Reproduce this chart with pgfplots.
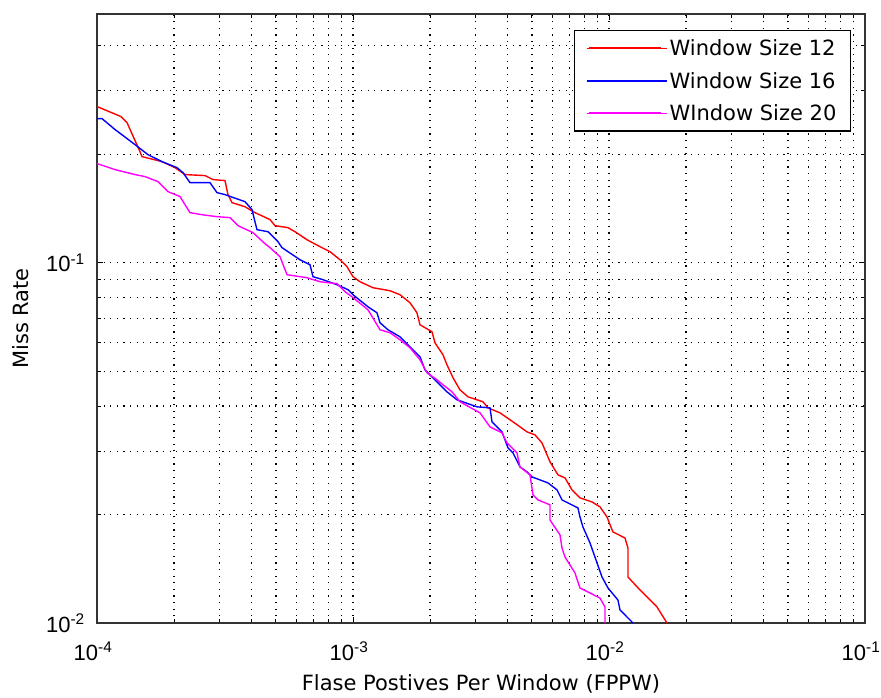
\documentclass[border=0pt]{standalone}
\usepackage{fontspec}
\setmainfont{DejaVu Sans}
\newfontfamily\tickfont{Liberation Sans}
\usepackage{pgfplots}
\pgfplotsset{compat=1.18}
\definecolor{cRed}{RGB}{255,0,0}
\definecolor{cBlue}{RGB}{0,0,255}
\definecolor{cMag}{RGB}{255,0,255}

\begin{document}
\begin{tikzpicture}
\useasboundingbox (-97pt,-74pt) rectangle (784pt,623pt);
\begin{axis}[
  scale only axis, width=768pt, height=609pt,
  xmode=log, ymode=log,
  xmin=1e-4, xmax=1e-1, ymin=1e-2, ymax=0.49,
  font=\fontsize{21}{25}\selectfont,
  xtick={1e-4,1e-3,1e-2,1e-1},
  xticklabels={10\textsuperscript{-4},10\textsuperscript{-3},10\textsuperscript{-2},10\textsuperscript{-1}},
  ytick={1e-2,1e-1},
  yticklabels={10\textsuperscript{-2},10\textsuperscript{-1}},
  minor xtick={2e-4,3e-4,4e-4,5e-4,6e-4,7e-4,8e-4,9e-4,2e-3,3e-3,4e-3,5e-3,6e-3,7e-3,8e-3,9e-3,2e-2,3e-2,4e-2,5e-2,6e-2,7e-2,8e-2,9e-2},
  minor ytick={0.02,0.03,0.04,0.05,0.06,0.07,0.08,0.09,0.2,0.3,0.4},
  tick label style={font=\tickfont\fontsize{22}{26}\selectfont, inner sep=0pt},
  xticklabel style={anchor=base, yshift=-37pt, xshift=-4pt},
  yticklabel style={anchor=base east, xshift=-12pt, yshift=-9pt},
  grid=both,
  major grid style={black, line width=1.2pt, dash pattern=on 1.2pt off 5.4pt},
  minor grid style={black, line width=1.2pt, dash pattern=on 1.2pt off 5.4pt},
  tick align=inside,
  major tick length=6pt, minor tick length=4pt,
  tick style={black, line width=0.9pt},
  axis line style={black!80, line width=1.4pt},
  xlabel={Flase Postives Per Window (FPPW)},
  ylabel={Miss Rate},
  xlabel style={at={(axis description cs:0.5,-0.110)}, anchor=base},
  ylabel style={at={(axis description cs:-0.0898,0.5)}, anchor=base},
  legend style={at={(rel axis cs:0.9818,0.9737)}, anchor=north east,
    draw=black, line width=1.2pt, fill=white,
    inner xsep=12pt, inner ysep=7pt, row sep=11pt,
    font=\fontsize{21}{25}\selectfont},
  legend cell align=left,
  legend image code/.code={%
    \path (0pt,0pt) -- (80pt,0pt);
    \draw[#1, line width=1.8pt] plot coordinates {(2pt,0pt) (38pt,0pt) (74pt,0pt)};},
]
\addplot[color=cRed, line width=1.4pt] coordinates {
(1.000e-4,0.2713) (1.241e-4,0.2544) (1.310e-4,0.2448) (1.472e-4,0.2034) (1.499e-4,0.1970)
(1.794e-4,0.1908) (2.017e-4,0.1836) (2.207e-4,0.1756) (2.642e-4,0.1745) (2.839e-4,0.1701)
(3.162e-4,0.1690) (3.249e-4,0.1545) (3.368e-4,0.1468) (3.786e-4,0.1430) (4.143e-4,0.1377)
(4.741e-4,0.1317) (4.959e-4,0.1267) (5.573e-4,0.1251) (5.934e-4,0.1219) (6.612e-4,0.1158)
(7.430e-4,0.1108) (8.133e-4,0.1073) (8.897e-4,0.1019) (9.476e-4,0.09747) (1.000e-3,0.09145)
(1.065e-3,0.08856) (1.197e-3,0.08522) (1.395e-3,0.08360) (1.526e-3,0.08149) (1.670e-3,0.07743)
(1.778e-3,0.07262) (1.827e-3,0.06727) (2.035e-3,0.06432) (2.091e-3,0.05995) (2.247e-3,0.05551)
(2.329e-3,0.05208) (2.459e-3,0.04793) (2.618e-3,0.04438) (2.813e-3,0.04244) (3.219e-3,0.04111)
(3.368e-3,0.03956) (3.752e-3,0.03831) (4.217e-3,0.03617) (4.783e-3,0.03393) (5.140e-3,0.03328)
(5.473e-3,0.03162) (5.884e-3,0.02800) (6.322e-3,0.02577) (6.732e-3,0.02528) (7.170e-3,0.02342)
(7.703e-3,0.02225) (8.582e-3,0.02168) (9.222e-3,0.02101) (9.822e-3,0.01970) (1.036e-2,0.01790)
(1.155e-2,0.01722) (1.186e-2,0.01615) (1.186e-2,0.01342) (1.322e-2,0.01235) (1.540e-2,0.01108)
(1.685e-2,0.01000)
};
\addlegendentry{Window Size 12}
\addplot[color=cBlue, line width=1.4pt] coordinates {
(1.000e-4,0.2512) (1.046e-4,0.2512) (1.176e-4,0.2342) (1.408e-4,0.2127) (1.582e-4,0.1995)
(1.794e-4,0.1908) (2.054e-4,0.1836) (2.168e-4,0.1778) (2.308e-4,0.1668) (2.763e-4,0.1668)
(2.943e-4,0.1565) (3.162e-4,0.1545) (3.786e-4,0.1477) (4.032e-4,0.1404) (4.217e-4,0.1235)
(4.656e-4,0.1219) (5.093e-4,0.1144) (5.281e-4,0.1101) (6.209e-4,0.1019) (6.792e-4,0.09872)
(6.979e-4,0.09145) (7.636e-4,0.08970) (8.660e-4,0.08689) (9.561e-4,0.08414) (1.000e-3,0.08149)
(1.144e-3,0.07548) (1.241e-3,0.07262) (1.275e-3,0.06813) (1.370e-3,0.06514) (1.526e-3,0.06229)
(1.670e-3,0.05843) (1.827e-3,0.05482) (1.911e-3,0.05045) (2.091e-3,0.04732) (2.329e-3,0.04382)
(2.548e-3,0.04164) (3.051e-3,0.03981) (3.430e-3,0.03956) (3.492e-3,0.03617) (3.819e-3,0.03393)
(4.032e-3,0.03062) (4.217e-3,0.02966) (4.491e-3,0.02712) (4.783e-3,0.02627) (5.003e-3,0.02544)
(5.779e-3,0.02448) (6.266e-3,0.02342) (6.553e-3,0.02196) (7.566e-3,0.02086) (7.703e-3,0.01970)
(7.913e-3,0.01848) (8.430e-3,0.01668) (8.980e-3,0.01468) (9.391e-3,0.01342) (9.910e-3,0.01251)
(1.084e-2,0.01158) (1.104e-2,0.01087) (1.241e-2,0.01000)
};
\addlegendentry{Window Size 16}
\addplot[color=cMag, line width=1.4pt] coordinates {
(1.000e-4,0.1884) (1.176e-4,0.1813) (1.408e-4,0.1756) (1.540e-4,0.1734) (1.731e-4,0.1679)
(1.894e-4,0.1575) (2.110e-4,0.1526) (2.308e-4,0.1377) (2.572e-4,0.1359) (2.943e-4,0.1342)
(3.307e-4,0.1334) (3.554e-4,0.1267) (4.069e-4,0.1212) (4.532e-4,0.1129) (4.741e-4,0.1101)
(5.186e-4,0.1039) (5.524e-4,0.09261) (6.612e-4,0.09085) (7.430e-4,0.08856) (8.660e-4,0.08744)
(9.307e-4,0.08307) (9.910e-4,0.08045) (1.144e-3,0.07404) (1.275e-3,0.06514) (1.395e-3,0.06391)
(1.526e-3,0.06111) (1.670e-3,0.05806) (1.827e-3,0.05377) (1.945e-3,0.04949) (2.129e-3,0.04732)
(2.247e-3,0.04583) (2.437e-3,0.04382) (2.618e-3,0.04111) (3.134e-3,0.03831) (3.430e-3,0.03503)
(3.819e-3,0.03372) (3.996e-3,0.03162) (4.372e-3,0.02966) (4.491e-3,0.02712) (4.914e-3,0.02577)
(5.048e-3,0.02268) (5.281e-3,0.02196) (5.884e-3,0.02128) (5.884e-3,0.01932) (6.437e-3,0.01756)
(6.553e-3,0.01615) (6.732e-3,0.01525) (7.365e-3,0.01377) (7.703e-3,0.01251) (9.222e-3,0.01173)
(9.647e-3,0.01108) (9.647e-3,0.01000)
};
\addlegendentry{WIndow Size 20}
\end{axis}
\end{tikzpicture}
\end{document}
